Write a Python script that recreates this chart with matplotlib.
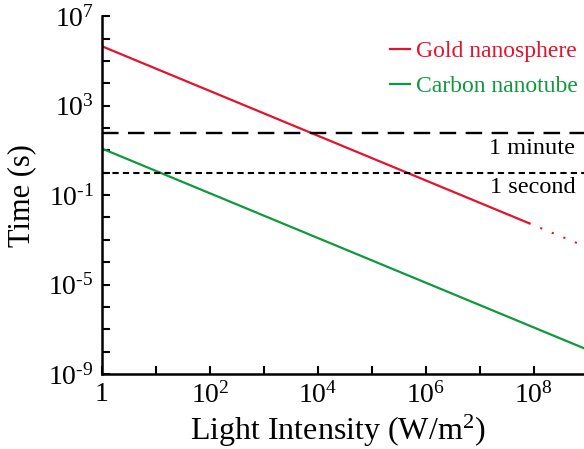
import math

import matplotlib
matplotlib.use("Agg")
import matplotlib.pyplot as plt
from matplotlib.lines import Line2D
from matplotlib.ticker import FixedLocator, FuncFormatter, NullFormatter

plt.rcParams["font.family"] = "Liberation Serif"
plt.rcParams["mathtext.fontset"] = "custom"
plt.rcParams["mathtext.rm"] = "Liberation Serif"
plt.rcParams["mathtext.it"] = "Liberation Serif:italic"

# heating time vs. light intensity (log-log, slope -1)
gold_x = [1, 8e7]
gold_y = [4.5e5, 5.6e-3]
gold_ext_x = [8e7, 1e9]
gold_ext_y = [5.6e-3, 4.5e-4]
carbon_x = [1, 1e9]
carbon_y = [12, 1.2e-8]

minute = 60
second = 1

RED = "#e3132e"
GREEN = "#10993c"

fig = plt.figure(figsize=(5.84, 4.49), dpi=100)
ax = fig.add_axes([0.1747, 0.167, 0.832, 0.797])

ax.plot(gold_x, gold_y, color=RED, lw=1.6)
ax.plot(gold_ext_x, gold_ext_y, color=RED, lw=1.5, ls=(0, (1, 5)))
ax.plot(carbon_x, carbon_y, color=GREEN, lw=1.6)
ax.axhline(minute, color="black", lw=1.7, ls=(0, (7, 4)))
ax.axhline(second, color="black", lw=1.5, ls=(0, (3, 2)))

ax.text(5.8e8, minute * 0.62, "1 minute", fontsize=17.5, ha="right", va="top")
ax.text(5.8e8, second * 0.62, "1 second", fontsize=17.5, ha="right", va="top")

ax.set_xscale("log")
ax.set_yscale("log")
ax.set_xlim(1, 1e9)
ax.set_ylim(1e-9, 1e7)


def sup(v, pos):
    e = int(round(math.log10(v)))
    if e == 0:
        return "1"
    if e < 0:
        return r"$10^{\text{-}%d}$" % (-e)
    return r"$10^{%d}$" % e


ax.xaxis.set_major_locator(FixedLocator([1, 1e2, 1e4, 1e6, 1e8]))
ax.xaxis.set_minor_locator(FixedLocator([10.0 ** k for k in range(1, 10, 2)]))
ax.yaxis.set_major_locator(FixedLocator([1e-9, 1e-5, 1e-1, 1e3, 1e7]))
ax.yaxis.set_minor_locator(FixedLocator([10.0 ** k for k in range(-9, 8)
                                         if (k + 9) % 4 != 0]))
ax.xaxis.set_major_formatter(FuncFormatter(sup))
ax.yaxis.set_major_formatter(FuncFormatter(sup))
ax.xaxis.set_minor_formatter(NullFormatter())
ax.yaxis.set_minor_formatter(NullFormatter())

ax.tick_params(which="both", direction="in", length=6, width=1.5,
               labelsize=20, color="black")
ax.tick_params(axis="x", pad=6)
ax.tick_params(axis="y", pad=6)

for s in ("top", "right"):
    ax.spines[s].set_visible(False)
for s in ("left", "bottom"):
    ax.spines[s].set_linewidth(1.8)

ax.set_xlabel("Light Intensity (W/m$^{2}$)", fontsize=23)
ax.xaxis.set_label_coords(0.486, -0.108)
ax.set_ylabel("Time (s)", fontsize=22)
ax.yaxis.set_label_coords(-0.135, 0.5)

handles = [Line2D([], [], color=RED, lw=1.6),
           Line2D([], [], color=GREEN, lw=1.6)]
leg = ax.legend(handles, ["Gold nanosphere", "Carbon nanotube"],
                loc="upper right", bbox_to_anchor=(0.999, 0.958),
                borderaxespad=0, frameon=False, fontsize=17,
                handlelength=0.85, handletextpad=0.25, labelspacing=0.56)
for txt, c in zip(leg.get_texts(), (RED, GREEN)):
    txt.set_color(c)

fig.savefig("out.png", dpi=100, facecolor="white")
